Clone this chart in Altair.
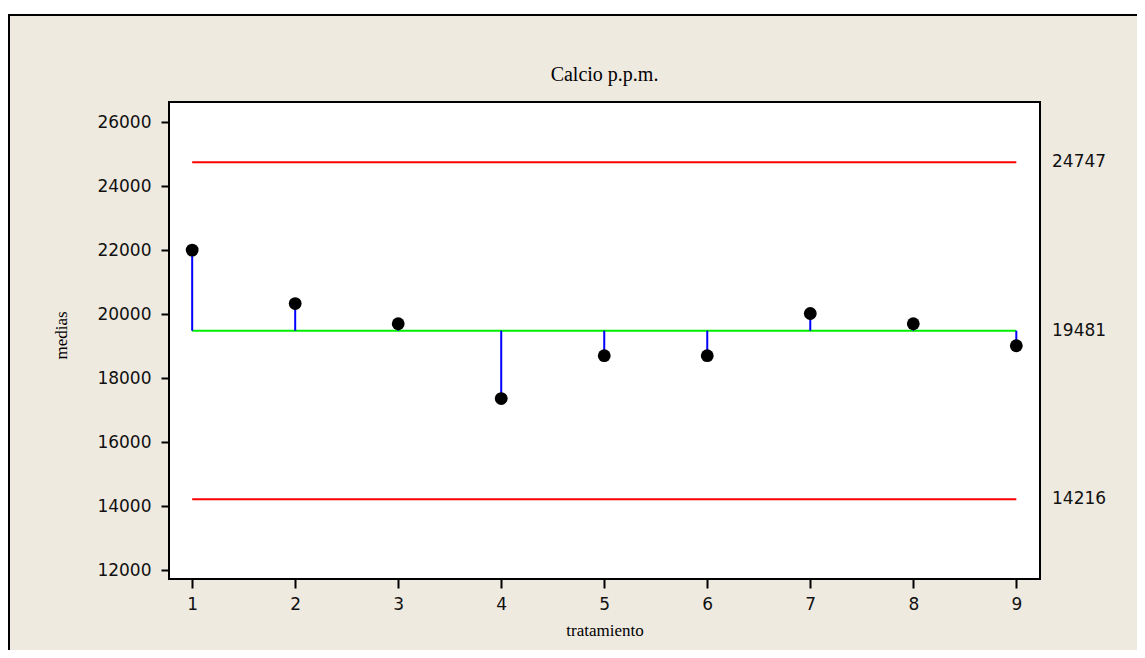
import altair as alt
import pandas as pd

# ---- data ----
tratamiento = [1, 2, 3, 4, 5, 6, 7, 8, 9]
medias = [22000, 20330, 19700, 17360, 18700, 18700, 20020, 19700, 19010]
linea_central = 19481
lsc = 24747
lic = 14216
y_ticks = [12000, 14000, 16000, 18000, 20000, 22000, 24000, 26000]
x_ticks = [1, 2, 3, 4, 5, 6, 7, 8, 9]
titulo = "Calcio p.p.m."

W, H = 871, 477
BEIGE = "#EEEAE0"

df = pd.DataFrame({"tratamiento": tratamiento, "medias": medias,
                   "centro": [linea_central] * len(tratamiento)})
limites = pd.DataFrame({"x1": [1, 1], "x2": [9, 9], "valor": [lsc, lic]})
centro = pd.DataFrame({"x1": [1], "x2": [9], "valor": [linea_central]})
etiquetas = pd.DataFrame({"valor": [lsc, linea_central, lic],
                          "texto": [str(lsc), str(linea_central), str(lic)]})
one = pd.DataFrame({"a": [0]})
tit = pd.DataFrame({"t": [titulo]})

xscale = alt.Scale(domain=[0.775, 9.23], nice=False, zero=False)
yscale = alt.Scale(domain=[11720, 26630], nice=False, zero=False)

xaxis = alt.Axis(values=x_ticks, format="d", title="tratamiento",
                 titleBaseline="alphabetic", titleY=56, labelPadding=8, tickSize=9)
yaxis = alt.Axis(values=y_ticks, format="d", title="medias",
                 titleX=-99, titleY=233, labelPadding=10, tickSize=8)


def X(field):
    return alt.X(field, type="quantitative", scale=xscale, axis=xaxis)


def Y(field):
    return alt.Y(field, type="quantitative", scale=yscale, axis=yaxis)


# white band above the outer frame
band = alt.Chart(one).mark_rect(fill="white").encode(
    x=alt.value(-170), x2=alt.value(W + 120), y=alt.value(-100), y2=alt.value(-88))
# outer frame border (top and left)
frame_top = alt.Chart(one).mark_rule(color="black", strokeWidth=2).encode(
    x=alt.value(-161), x2=alt.value(W + 120), y=alt.value(-87))
frame_left = alt.Chart(one).mark_rule(color="black", strokeWidth=2).encode(
    x=alt.value(-160), y=alt.value(-88), y2=alt.value(H + 120))

title_mark = alt.Chart(tit).mark_text(align="center", baseline="alphabetic",
                                      font="Liberation Serif", fontSize=20,
                                      color="black").encode(
    x=alt.value(W / 2), y=alt.value(-21), text="t:N")

lim = alt.Chart(limites).mark_rule(color="#FF0000", strokeWidth=2).encode(
    x=X("x1"), x2="x2", y=Y("valor"))

cen = alt.Chart(centro).mark_rule(color="#00EE00", strokeWidth=2).encode(
    x=X("x1"), x2="x2", y=Y("valor"))

stems = alt.Chart(df).mark_rule(color="#0000FF", strokeWidth=2).encode(
    x=X("tratamiento"), y=Y("centro"), y2="medias")

pts = alt.Chart(df).mark_circle(color="black", opacity=1, size=165).encode(
    x=X("tratamiento"), y=Y("medias"))

txt = alt.Chart(etiquetas).mark_text(align="left", baseline="middle", font="DejaVu Sans",
                                     fontSize=17, color="#111111").encode(
    x=alt.value(W + 12), y=Y("valor"), text="texto:N")

chart = alt.layer(band, frame_top, frame_left, title_mark, lim, cen, stems, pts, txt).properties(
    width=W, height=H,
    autosize=alt.AutoSizeParams(type="none"),
    padding={"left": 161, "top": 94, "right": 97, "bottom": 71},
    background=BEIGE,
).configure_view(fill="white", stroke="black", strokeWidth=2).configure_axis(
    grid=False, domain=False,
    tickColor="black", tickWidth=2,
    labelFont="DejaVu Sans", labelFontSize=17, labelColor="#111111",
    titleFont="Liberation Serif", titleFontSize=17, titleFontWeight="normal", titleColor="black",
)

chart.save("out.html", embed_options={"renderer": "svg", "actions": False})
